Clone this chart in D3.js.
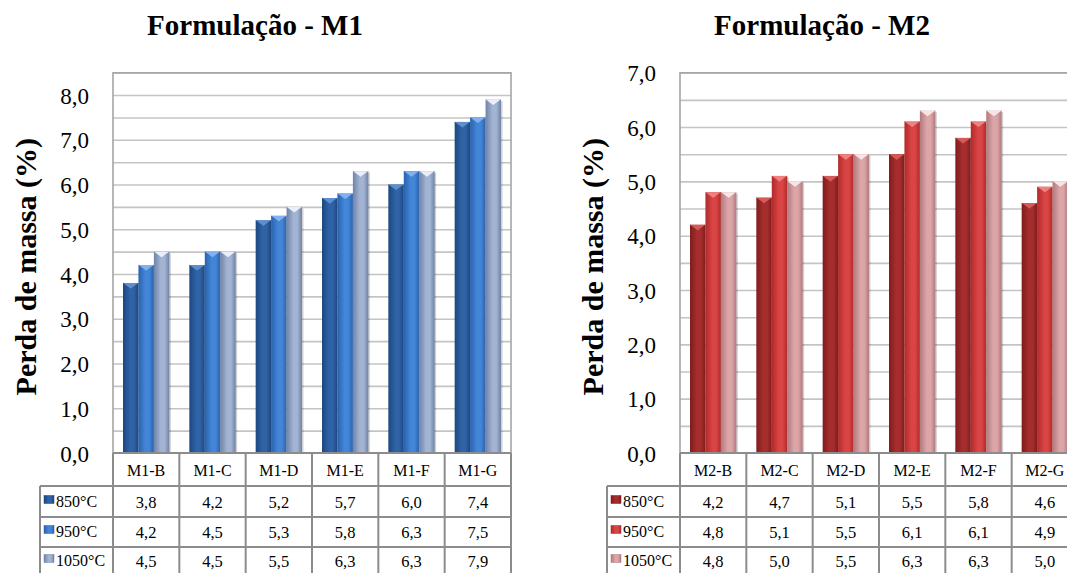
<!DOCTYPE html>
<html>
<head>
<meta charset="utf-8">
<script src="https://cdn.jsdelivr.net/npm/d3@7"></script>
<style>
  html, body { margin: 0; padding: 0; background: #fff; }
  svg { display: block; }
  svg text { font-family: "Liberation Serif", "Times New Roman", serif !important; }
</style>
</head>
<body>
<svg id="chart" width="1067" height="573"></svg>
<script>
// ---------- DATA ----------
const seriesNames = ["850°C", "950°C", "1050°C"];

const categoriesM1 = ["M1-B", "M1-C", "M1-D", "M1-E", "M1-F", "M1-G"];
const m1_850  = [3.8, 4.2, 5.2, 5.7, 6.0, 7.4];
const m1_950  = [4.2, 4.5, 5.3, 5.8, 6.3, 7.5];
const m1_1050 = [4.5, 4.5, 5.5, 6.3, 6.3, 7.9];
const yTicksM1 = [0, 1, 2, 3, 4, 5, 6, 7, 8];
const yMaxM1 = 8.5;

const categoriesM2 = ["M2-B", "M2-C", "M2-D", "M2-E", "M2-F", "M2-G"];
const m2_850  = [4.2, 4.7, 5.1, 5.5, 5.8, 4.6];
const m2_950  = [4.8, 5.1, 5.5, 6.1, 6.1, 4.9];
const m2_1050 = [4.8, 5.0, 5.5, 6.3, 6.3, 5.0];
const yTicksM2 = [0, 1, 2, 3, 4, 5, 6, 7];
const yMaxM2 = 7;

const titleM1 = "Formulação - M1";
const titleM2 = "Formulação - M2";
const yTitle = "Perda de massa (%)";

// ---------- STYLE ----------
const FONT = "'Liberation Serif', 'Times New Roman', serif";
const paletteBlue = [
  { edge: "#1c477f", mid: "#2f63a6", top: "#5d8fd0" },
  { edge: "#2a62ad", mid: "#4386d8", top: "#7fb2ef" },
  { edge: "#6f83a8", mid: "#a3b4d3", top: "#e9eef8" }
];
const paletteRed = [
  { edge: "#7f1c1c", mid: "#a62d2d", top: "#d65a5a" },
  { edge: "#b02a2a", mid: "#d94444", top: "#f08080" },
  { edge: "#b07a7e", mid: "#dca5a8", top: "#f8e4e5" }
];

const svg = d3.select("#chart").style("font-family", FONT);
const defs = svg.append("defs");

function makeGradients(prefix, palette) {
  palette.forEach((p, i) => {
    const g = defs.append("linearGradient")
      .attr("id", prefix + i).attr("x1", "0%").attr("x2", "100%")
      .attr("y1", "0%").attr("y2", "0%");
    g.append("stop").attr("offset", "0%").attr("stop-color", p.edge);
    g.append("stop").attr("offset", "45%").attr("stop-color", p.mid);
    g.append("stop").attr("offset", "70%").attr("stop-color", p.mid);
    g.append("stop").attr("offset", "100%").attr("stop-color", p.edge);
  });
}
makeGradients("gB", paletteBlue);
makeGradients("gR", paletteRed);

function drawChart(cfg) {
  const { ox, categories, series, yMax, yTicks, title, gradPrefix, palette } = cfg;
  const plotLeft = ox + 113, plotRight = ox + 511, plotTop = 72.7, plotBottom = 453;
  const legendLeft = ox + 40;
  const rowBounds = [453, 486, 517, 547, 578];

  const g = svg.append("g").style("font-family", FONT);

  const x = d3.scaleBand().domain(categories).range([plotLeft, plotRight]).padding(0);
  const xInner = d3.scaleBand().domain(seriesNames)
    .range([10, x.bandwidth() - 10]).padding(0);
  const y = d3.scaleLinear().domain([0, yMax]).range([plotBottom, plotTop]);

  // title
  g.append("text")
    .attr("x", ox + 255).attr("y", 35)
    .attr("text-anchor", "middle")
    .style("font-family", FONT)
    .attr("font-size", 29).attr("font-weight", "bold")
    .text(title);

  // y title
  g.append("text")
    .attr("transform", `translate(${ox + 36},${(136.7 + 396.7) / 2}) rotate(-90)`)
    .attr("text-anchor", "middle")
    .style("font-family", FONT)
    .attr("font-size", 30).attr("font-weight", "bold")
    .text(yTitle);

  // gridlines every 0.5
  const gridVals = d3.range(0.5, yMax + 0.001, 0.5);
  const grid = g.append("g")
    .attr("transform", `translate(${plotLeft},0)`)
    .call(d3.axisLeft(y).tickValues(gridVals).tickSize(-(plotRight - plotLeft)).tickFormat(""));
  grid.select(".domain").remove();
  grid.selectAll(".tick line").attr("stroke", "#c4c4c4").attr("stroke-width", 1.6);

  // plot border (top, left, right)
  g.append("path")
    .attr("d", `M${plotLeft},${plotBottom}V${plotTop}H${plotRight}V${plotBottom}`)
    .attr("fill", "none").attr("stroke", "#a6a6a6").attr("stroke-width", 1.6);

  // y tick labels
  const fmt = v => d3.format(".1f")(v).replace(".", ",");
  const yAxis = g.append("g")
    .attr("transform", `translate(${plotLeft - 24},0)`)
    .call(d3.axisLeft(y).tickValues(yTicks).tickSize(0).tickPadding(0).tickFormat(fmt));
  yAxis.attr("font-family", null);
  yAxis.select(".domain").remove();
  yAxis.selectAll("text")
    .style("font-family", FONT)
    .attr("font-size", 23).attr("fill", "#000").attr("dy", "0.35em");

  // bars
  const tri = 6;
  series.forEach((vals, si) => {
    const sName = seriesNames[si];
    const bw = xInner.bandwidth();
    const sg = g.append("g");
    categories.forEach((c, ci) => {
      const v = vals[ci];
      const x0 = x(c) + xInner(sName);
      const yt = y(v);
      sg.append("rect")
        .attr("x", x0 + 1.5).attr("y", yt + 1.5)
        .attr("width", bw).attr("height", y(0) - yt - 1.5)
        .attr("fill", "#000").attr("opacity", 0.18);
      sg.append("rect")
        .attr("x", x0).attr("y", yt)
        .attr("width", bw).attr("height", y(0) - yt)
        .attr("fill", `url(#${gradPrefix}${si})`);
      sg.append("path")
        .attr("d", `M${x0},${yt}L${x0 + bw},${yt}L${x0 + bw / 2},${yt + tri}Z`)
        .attr("fill", palette[si].top);
      sg.append("path")
        .attr("d", `M${x0},${yt}L${x0 + bw / 2},${yt + tri}L${x0 + bw},${yt}`)
        .attr("fill", "none").attr("stroke", palette[si].edge).attr("stroke-width", 0.6).attr("opacity", 0.6);
    });
  });

  // data table
  const lineColor = "#8c8c8c";
  const tl = g.append("g").attr("stroke", lineColor).attr("stroke-width", 2).attr("fill", "none");
  tl.append("line").attr("x1", plotLeft).attr("x2", plotRight).attr("y1", rowBounds[0]).attr("y2", rowBounds[0]);
  for (let r = 1; r < rowBounds.length; r++) {
    tl.append("line").attr("x1", legendLeft).attr("x2", plotRight)
      .attr("y1", rowBounds[r]).attr("y2", rowBounds[r]);
  }
  tl.append("line").attr("x1", legendLeft).attr("x2", legendLeft).attr("y1", rowBounds[1]).attr("y2", rowBounds[4]);
  const colEdges = categories.map(c => x(c)).concat([plotRight]);
  colEdges.forEach(xe => {
    tl.append("line").attr("x1", xe).attr("x2", xe).attr("y1", rowBounds[0]).attr("y2", rowBounds[4]);
  });

  // header labels
  categories.forEach(c => {
    g.append("text")
      .attr("x", x(c) + x.bandwidth() / 2).attr("y", 476)
      .attr("text-anchor", "middle").attr("font-size", 16)
      .style("font-family", FONT)
      .text(c);
  });
  const baselines = [508, 538, 567];
  series.forEach((vals, si) => {
    g.append("rect")
      .attr("x", legendLeft + 4).attr("y", baselines[si] - 12.5)
      .attr("width", 10).attr("height", 8)
      .attr("fill", `url(#${gradPrefix}${si})`)
      .attr("stroke", palette[si].edge).attr("stroke-width", 0.5);
    g.append("text")
      .attr("x", legendLeft + 16).attr("y", baselines[si] - 1)
      .attr("font-size", 16)
      .style("font-family", FONT)
      .text(seriesNames[si]);
    categories.forEach((c, ci) => {
      g.append("text")
        .attr("x", x(c) + x.bandwidth() / 2).attr("y", baselines[si])
        .attr("text-anchor", "middle").attr("font-size", 16.5)
        .style("font-family", FONT)
        .text(fmt(vals[ci]));
    });
  });
}

drawChart({
  ox: 0, categories: categoriesM1, series: [m1_850, m1_950, m1_1050],
  yMax: yMaxM1, yTicks: yTicksM1, title: titleM1, gradPrefix: "gB", palette: paletteBlue
});
drawChart({
  ox: 567, categories: categoriesM2, series: [m2_850, m2_950, m2_1050],
  yMax: yMaxM2, yTicks: yTicksM2, title: titleM2, gradPrefix: "gR", palette: paletteRed
});
</script>
</body>
</html>
